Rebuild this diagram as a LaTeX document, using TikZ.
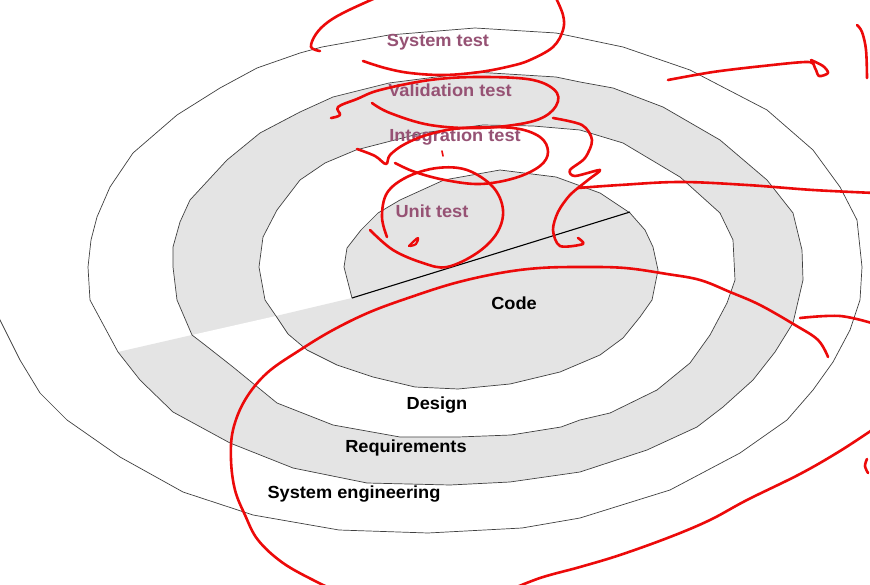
\documentclass[tikz,border=0pt]{standalone}
\usepackage{fontspec}
\newfontfamily\labfont{Liberation Sans}[FakeStretch=1.04]
\definecolor{bandgrey}{HTML}{E4E4E4}
\definecolor{testpurple}{RGB}{150,82,116}
\definecolor{inkred}{RGB}{236,10,10}
\begin{document}
\begin{tikzpicture}[x=1pt,y=-1pt,
  spiralline/.style={draw=black!75,line width=0.7pt,line join=round},
  axisline/.style={draw=black,line width=1.1pt},
  hand/.style={draw=inkred,line width=2.6pt,line cap=round,line join=round},
  lbl/.style={font=\labfont\bfseries\fontsize{17.5}{20}\selectfont,anchor=base,inner sep=0pt},
  testlbl/.style={lbl,text=testpurple},
  phaselbl/.style={lbl,text=black}]
\useasboundingbox (0,0) rectangle (870,585);
\clip (0,0) rectangle (870,585);
\fill[white] (0,0) rectangle (870,585);
% loop 3 (grey band: Validation test / Requirements)
\fill[bandgrey] plot coordinates {(192,335) (177,300) (173,267) (173,247) (180,222) (190,200) (227,160) (260,133) (300,112) (333,97) (389,83) (475,72) (556,77) (580,82) (613,88) (663,107) (720,140) (767,180) (793,213) (802,250) (803,280) (793,323) (775,352) (753,380) (723,407) (697,427) (647,450) (580,472) (510,482) (450,485) (367,483) (293,468) (230,443) (173,412) (140,380) (118,352)} -- cycle;
% loop 2 (white band: Integration test / Design)
\fill[white] plot coordinates {(276,316) (265,300) (259,267) (263,237) (277,210) (300,180) (325,163) (356,150) (422,133) (483,125) (533,126) (580,130) (623,143) (680,177) (720,213) (733,240) (735,280) (727,303) (710,335) (690,363) (657,390) (610,413) (580,420) (561,427) (511,435) (458,437) (400,437) (333,425) (277,403) (233,367) (205,345) (192,335)} -- cycle;
% loop 1 (grey core: Unit test / Code)
\fill[bandgrey] plot coordinates {(352,298) (344,267) (347,248) (361,230) (378,213) (400,200) (444,180) (500,170) (556,177) (600,193) (630,213) (645,230) (653,247) (658,270) (652,300) (640,317) (623,338) (600,355) (560,372) (510,384) (458,389) (415,387) (373,377) (337,365) (307,350) (288,334) (276,316)} -- cycle;
% spiral outline
\draw[spiralline] plot coordinates {(352,298) (344,267) (347,248) (361,230) (378,213) (400,200) (444,180) (500,170) (556,177) (600,193) (630,213) (645,230) (653,247) (658,270) (652,300) (640,317) (623,338) (600,355) (560,372) (510,384) (458,389) (415,387) (373,377) (337,365) (307,350) (288,334) (276,316)
 (265,300) (259,267) (263,237) (277,210) (300,180) (325,163) (356,150) (422,133) (483,125) (533,126) (580,130) (623,143) (680,177) (720,213) (733,240) (735,280) (727,303) (710,335) (690,363) (657,390) (610,413) (580,420) (561,427) (511,435) (458,437) (400,437) (333,425) (277,403) (233,367) (205,345) (192,335)
 (177,300) (173,267) (173,247) (180,222) (190,200) (227,160) (260,133) (300,112) (333,97) (389,83) (475,72) (556,77) (580,82) (613,88) (663,107) (720,140) (767,180) (793,213) (802,250) (803,280) (793,323) (775,352) (753,380) (723,407) (697,427) (647,450) (580,472) (510,482) (450,485) (367,483) (293,468) (230,443) (173,412) (140,380) (118,352)
 (90,300) (88,267) (91,240) (97,217) (110,187) (133,153) (177,115) (220,88) (257,68) (300,53) (322,47) (389,35) (475,28) (556,33) (580,38) (623,47) (690,70) (767,110) (813,150) (840,187) (857,220) (862,267) (860,300) (850,330) (833,362) (813,390) (787,420) (740,453) (670,490) (580,518) (522,528) (428,533) (339,530) (253,515) (183,492) (120,457) (67,420) (40,393) (20,360) (0,320) (-10,290)};
% axis
\coordinate (axisL) at (352,298);
\coordinate (axisR) at (630,212);
\draw[axisline] (axisL) -- (axisR);
% labels
\node[testlbl] (systest) at (438,46.5) {System test};
\node[testlbl] (valtest) at (450,97) {Validation test};
\node[testlbl] (inttest) at (455,142) {Integration test};
\node[testlbl] (unittest) at (432,217.5) {Unit test};
\node[phaselbl] (code) at (514,309) {Code};
\node[phaselbl] (design) at (437,409.5) {Design};
\node[phaselbl] (req) at (406,452.5) {Requirements};
\node[phaselbl] (syseng) at (354,498.5) {System engineering};
% hand-drawn red annotations
\draw[hand] plot[smooth,tension=0.6] coordinates {(320,51) (311,47) (316,34) (328,22) (347,11) (380,-4)};
\draw[hand] plot[smooth,tension=0.6] coordinates {(555,-4) (563,15) (563,30) (553,47) (530,60) (511,66) (480,72) (444,75) (410,73) (385,68) (363,61)};
\draw[hand] plot[smooth,tension=0.6] coordinates {(331,118) (340,115) (338,107) (357,99) (380,90) (430,80) (480,77) (533,80) (557,93) (553,110) (530,122) (480,128) (430,125) (390,113) (372,103)};
\draw[hand] plot[smooth,tension=0.6] coordinates {(357,149) (375,156) (386,164) (390,155) (405,144) (430,134) (463,128) (513,128) (540,137) (548,152) (540,166) (515,178) (480,184) (445,180) (415,172) (395,163)};
\draw[hand,line width=1.6pt] (442,151) -- (443,156);
\draw[hand] plot[smooth,tension=0.6] coordinates {(387,237) (382,217) (387,193) (407,177) (437,168) (467,170) (493,187) (503,210) (497,233) (477,253) (447,267) (423,263) (393,250) (370,230)};
\draw[hand,line width=2.2pt] plot[smooth,tension=0.7] coordinates {(409,246) (414,241) (418,238) (416,244) (410,246)};
\draw[hand] plot[smooth,tension=0.5] coordinates {(553,118) (582,125) (592,140) (585,158) (570,170) (575,176) (600,170) (588,180) (570,195) (558,212) (553,230) (560,246) (583,244) (578,238)};
\draw[hand] plot[smooth,tension=0.6] coordinates {(578,188) (620,185) (680,182) (747,185) (813,190) (875,193)};
\draw[hand] plot[smooth,tension=0.5] coordinates {(668,80) (713,72) (763,66) (808,62) (815,68) (819,76) (828,73) (823,66) (811,60)};
\draw[hand] plot[smooth,tension=0.6] coordinates {(857,25) (862,32) (866,50) (867,78)};
\draw[hand] plot[smooth,tension=0.6] coordinates {(828,357) (818,340) (795,325) (760,305) (730,292) (700,280) (667,274) (625,268) (583,267) (540,268) (500,273) (455,283) (411,297) (370,312) (333,330) (300,350) (267,373) (245,400) (233,430) (231,460) (235,490) (245,515) (258,540) (283,563) (317,582) (345,595)};
\draw[hand] plot[smooth,tension=0.6] coordinates {(800,318) (840,316) (875,324)};
\draw[hand] plot[smooth,tension=0.6] coordinates {(875,428) (840,451) (800,474) (747,500) (710,520) (670,537) (620,555) (580,567) (540,578) (505,592)};
\draw[hand] plot[smooth,tension=0.6] coordinates {(867,459) (865,466) (868,473)};
\end{tikzpicture}
\end{document}
